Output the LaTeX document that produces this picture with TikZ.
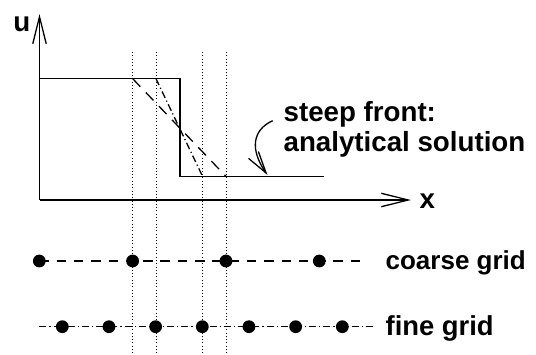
\documentclass[tikz,border=0pt]{standalone}
\usepackage{fontspec}
\setmainfont{Liberation Sans}
\usetikzlibrary{arrows.meta}
\begin{document}
\begin{tikzpicture}[x=1pt,y=-1pt,line width=1.3pt,
  lbl/.style={font=\fontsize{27.7}{30}\selectfont\bfseries,inner sep=0pt,anchor=base west},
  gdot/.style={circle,fill=black,inner sep=0pt,minimum size=12.8pt},
  guide/.style={line width=0.8pt,dash pattern=on 0.8pt off 2.5pt},
  coarse/.style={dash pattern=on 9.5pt off 7.8pt},
  slantc/.style={dash pattern=on 11pt off 8pt},
  fine/.style={dash pattern=on 7pt off 3pt on 1.2pt off 3pt},
  barb/.style={-{Straight Barb[length=27pt,width=13.4pt,line width=1.3pt]}},
  sbarb/.style={-{Straight Barb[length=22pt,width=12pt,line width=1.3pt]}}]
\useasboundingbox (0,0) rectangle (536,354);
% axes
\coordinate (O) at (39.5,200);
\coordinate (utop) at (39.5,14);
\coordinate (xend) at (411,200);
\draw[barb] (O) -- (utop);
\draw[barb] (O) -- (xend);
\node[lbl] (ulbl) at (12.7,31.7) {u};
\node[lbl] (xlbl) at (419,208.7) {x};
% analytical step
\coordinate (hl) at (39.5,78.7);
\coordinate (st) at (180,78.7);
\coordinate (sb) at (180,176.7);
\coordinate (le) at (324,176.7);
\draw (hl) -- (st) -- (sb) -- (le);
% numerical approximations
\coordinate (c1) at (132.7,78.7);
\coordinate (c2) at (226.3,176.7);
\coordinate (f1) at (156,78.7);
\coordinate (f2) at (202.7,176.7);
\draw[slantc] (c1) -- (c2);
\draw[fine] (f1) -- (f2);
% guide lines
\foreach \gx/\gn in {132.7/g1,156/g2,202.7/g3,226.3/g4}{
  \coordinate (\gn t) at (\gx,52);
  \coordinate (\gn b) at (\gx,354);
  \draw[guide] (\gn t) -- (\gn b);
}
% annotation
\node[lbl] (steep) at (283,121.7) {steep front:};
\node[lbl] (anal) at (283,151.7) {analytical solution};
\coordinate (as) at (272.7,120.7);
\coordinate (ae) at (267.5,175);
\draw[sbarb] (as) .. controls (252,130) and (250,150) .. (ae);
% coarse grid
\coordinate (cs) at (39.3,261);
\coordinate (ce) at (367,261);
\draw[coarse] (cs) -- (ce);
\foreach \i in {0,...,3}{
  \node[gdot] (cd\i) at (39.3+93.33*\i,261) {};
}
\node[lbl,font=\fontsize{26}{30}\selectfont\bfseries] (clbl) at (385,269) {coarse grid};
% fine grid
\coordinate (fs) at (39.3,326.7);
\coordinate (fe) at (375,326.7);
\draw[fine] (fs) -- (fe);
\foreach \i in {0,...,6}{
  \node[gdot] (fd\i) at (62.3+46.67*\i,326.7) {};
}
\node[lbl,font=\fontsize{27.4}{30}\selectfont\bfseries] (flbl) at (385,335) {fine grid};
\end{tikzpicture}
\end{document}
